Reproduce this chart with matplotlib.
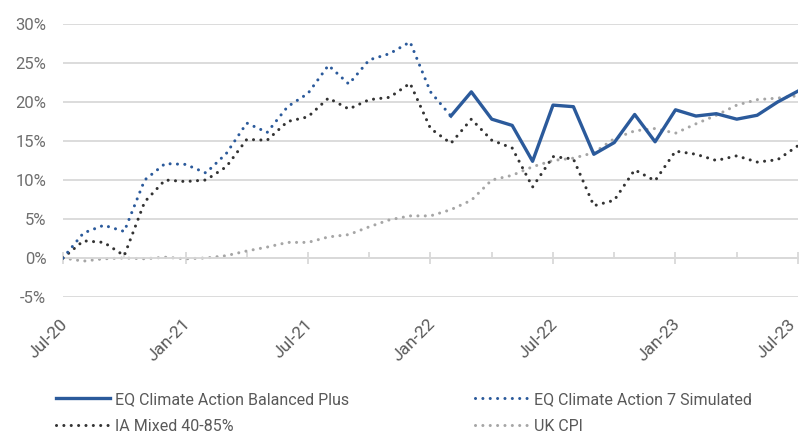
import numpy as np
import matplotlib
matplotlib.use("Agg")
import matplotlib.pyplot as plt
import matplotlib.transforms as mtransforms
from matplotlib.ticker import FixedLocator, FuncFormatter

# monthly points, Jul-20 .. Jul-23
months = np.arange(37)
tick_labels = ["Jul-20", "Jan-21", "Jul-21", "Jan-22", "Jul-22", "Jan-23", "Jul-23"]

# EQ Climate Action 7 Simulated (Jul-20 .. Feb-22)
simulated = [0.0, 3.2, 4.2, 3.4, 10.0, 12.1, 12.0, 10.9, 13.4, 17.3, 16.1,
             19.4, 21.1, 24.7, 22.3, 25.4, 26.2, 27.7, 21.3, 18.2]
# EQ Climate Action Balanced Plus (Feb-22 .. Jul-23)
balanced = [18.2, 21.3, 17.8, 17.0, 12.4, 19.6, 19.4, 13.3, 14.8, 18.4,
            14.9, 19.0, 18.2, 18.5, 17.8, 18.3, 20.0, 21.4]
ia_mixed = [0.0, 2.2, 2.0, 0.3, 7.2, 10.0, 9.8, 10.0, 11.7, 15.2, 15.1,
            17.5, 18.1, 20.5, 19.1, 20.3, 20.6, 22.4, 16.6, 14.7, 17.8, 15.1,
            14.1, 9.1, 13.0, 12.7, 6.7, 7.4, 11.3, 9.9, 13.7, 13.3, 12.5,
            13.1, 12.3, 12.6, 14.4]
uk_cpi = [0.0, -0.4, -0.1, 0.0, -0.1, 0.1, -0.1, 0.0, 0.3, 0.9, 1.4,
          2.0, 2.0, 2.7, 3.0, 4.0, 4.9, 5.4, 5.4, 6.2, 7.4, 10.0,
          10.6, 11.7, 12.5, 12.8, 13.5, 15.3, 16.3, 16.6, 16.0, 17.2, 18.3,
          19.6, 20.3, 20.5, 20.8]

BLUE = "#2b5a9b"
DARK = "#333333"
GREY = "#a6a6a6"
TEXT = "#595959"
YTEXT = "#6e6e6e"
GRID = "#d9d9d9"

plt.rcParams["font.family"] = ["Roboto", "DejaVu Sans"]

fig = plt.figure(figsize=(8.01, 4.34), dpi=100)
ax = fig.add_axes([63 / 801, 1 - 297 / 434, 735 / 801, 273 / 434])

dots = (0, (0.01, 2.4))
ax.plot(months[:len(simulated)], simulated, color=BLUE, lw=2.2,
        linestyle=dots, dash_capstyle="round",
        label="EQ Climate Action 7 Simulated", zorder=4)
ax.plot(months[-len(balanced):], balanced, color=BLUE, lw=2.4,
        label="EQ Climate Action Balanced Plus", zorder=5)
ax.plot(months, ia_mixed, color=DARK, lw=2.2, linestyle=dots,
        dash_capstyle="round", label="IA Mixed 40-85%", zorder=3)
ax.plot(months, uk_cpi, color=GREY, lw=2.2, linestyle=dots,
        dash_capstyle="round", label="UK CPI", zorder=2)

ax.set_xlim(0, 36)
ax.set_ylim(-5, 30)
ax.set_yticks(np.arange(-5, 31, 5))
ax.yaxis.set_major_formatter(FuncFormatter(lambda v, p: f"{v:.0f}%"))
ax.grid(axis="y", color=GRID, lw=1.3)
ax.set_axisbelow(True)

for s in ["top", "right", "left"]:
    ax.spines[s].set_visible(False)
ax.spines["bottom"].set_position(("data", 0))
ax.spines["bottom"].set_color(GRID)
ax.spines["bottom"].set_linewidth(1.3)

ax.xaxis.set_major_locator(FixedLocator(months[::6]))
ax.xaxis.set_minor_locator(FixedLocator(months[3::6]))
ax.set_xticklabels(tick_labels, rotation=45, ha="right",
                   rotation_mode="anchor")
ax.tick_params(axis="x", which="major", direction="inout", length=8,
               color=GRID, width=1.3, pad=38, labelsize=12.5, labelcolor=TEXT)
ax.tick_params(axis="x", which="minor", direction="in", length=4,
               color=GRID, width=1.3)
ax.tick_params(axis="y", length=0, pad=12, labelsize=12, labelcolor=YTEXT)

# nudge rotated date labels a little left; the last one a bit more so it
# stays inside the figure
xlabels = ax.get_xticklabels()
for k, lbl in enumerate(xlabels):
    dx = -10 if k == len(xlabels) - 1 else -3
    shift = mtransforms.ScaledTranslation(dx / 100, 0, fig.dpi_scale_trans)
    lbl.set_transform(lbl.get_transform() + shift)

handles, labels = ax.get_legend_handles_labels()
leg_kw = dict(loc="upper left", ncol=1, frameon=False, fontsize=11.5,
              labelcolor=TEXT, handlelength=3.4, handletextpad=0.3,
              borderaxespad=0, borderpad=0, labelspacing=0.75)
leg1 = fig.legend([handles[1], handles[2]], [labels[1], labels[2]],
                  bbox_to_anchor=(56 / 801, 1 - 392 / 434), **leg_kw)
leg2 = fig.legend([handles[0], handles[3]], [labels[0], labels[3]],
                  bbox_to_anchor=(475 / 801, 1 - 392 / 434), **leg_kw)

fig.savefig("out.png", dpi=100)
